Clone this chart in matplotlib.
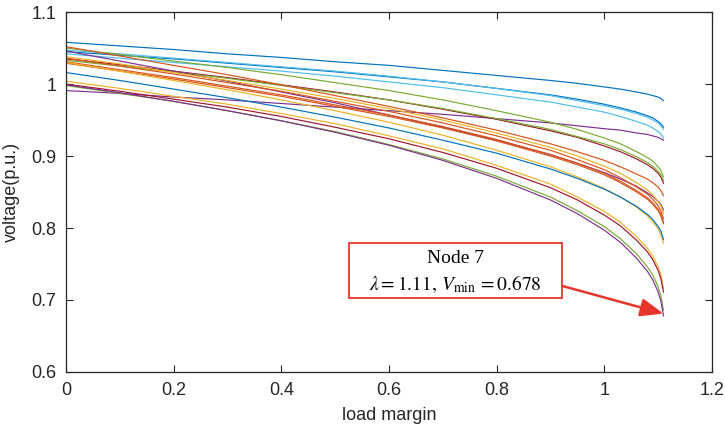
import matplotlib
matplotlib.use("Agg")
import matplotlib.pyplot as plt
from matplotlib.patches import Rectangle

# load margin sample points shared by every curve
lam = [0, 0.1, 0.2, 0.3, 0.4, 0.5, 0.6, 0.7, 0.8, 0.9, 0.95, 1.0,
       1.03, 1.06, 1.08, 1.09, 1.1, 1.105, 1.11]

# node voltages (p.u.) at the points above
v_blue_top = [1.058, 1.053, 1.048, 1.042, 1.037, 1.031, 1.026, 1.019, 1.012, 1.005,
              1.001, 0.996, 0.993, 0.989, 0.986, 0.984, 0.982, 0.980, 0.977]
v_blue_2 = [1.045, 1.040, 1.035, 1.029, 1.023, 1.017, 1.010, 1.003, 0.994, 0.985,
            0.979, 0.972, 0.967, 0.961, 0.956, 0.953, 0.948, 0.945, 0.940]
v_lblue_1 = [1.047, 1.042, 1.036, 1.030, 1.024, 1.018, 1.011, 1.003, 0.994, 0.984,
             0.977, 0.970, 0.965, 0.959, 0.954, 0.950, 0.946, 0.942, 0.937]
v_lblue_2 = [1.042, 1.036, 1.030, 1.024, 1.018, 1.011, 1.003, 0.995, 0.985, 0.975,
             0.968, 0.961, 0.955, 0.948, 0.943, 0.939, 0.934, 0.931, 0.925]
v_purple_flat = [0.991, 0.987, 0.982, 0.978, 0.973, 0.968, 0.963, 0.958, 0.952, 0.946,
                 0.942, 0.938, 0.936, 0.932, 0.930, 0.928, 0.926, 0.924, 0.922]
v_green_1 = [1.050, 1.041, 1.032, 1.023, 1.013, 1.002, 0.991, 0.978, 0.963, 0.947,
             0.937, 0.925, 0.917, 0.906, 0.898, 0.893, 0.885, 0.880, 0.871]
v_red_1 = [1.035, 1.027, 1.018, 1.009, 0.999, 0.989, 0.978, 0.965, 0.951, 0.935,
           0.926, 0.914, 0.906, 0.896, 0.888, 0.883, 0.876, 0.871, 0.862]
v_green_2 = [1.033, 1.025, 1.017, 1.008, 0.998, 0.988, 0.978, 0.966, 0.952, 0.937,
             0.927, 0.917, 0.909, 0.899, 0.891, 0.886, 0.879, 0.874, 0.866]
v_orange_1 = [1.052, 1.039, 1.026, 1.013, 0.999, 0.984, 0.969, 0.953, 0.936, 0.917,
              0.906, 0.894, 0.885, 0.875, 0.868, 0.863, 0.857, 0.852, 0.845]
v_purple_2 = [1.046, 1.032, 1.018, 1.004, 0.989, 0.974, 0.957, 0.940, 0.922, 0.902,
              0.890, 0.877, 0.868, 0.858, 0.849, 0.844, 0.837, 0.833, 0.825]
v_yellow_1 = [1.038, 1.028, 1.016, 1.005, 0.993, 0.980, 0.966, 0.950, 0.932, 0.912,
              0.900, 0.886, 0.876, 0.863, 0.853, 0.846, 0.837, 0.831, 0.820]
v_orange_2 = [1.036, 1.025, 1.014, 1.002, 0.990, 0.976, 0.962, 0.946, 0.928, 0.908,
              0.895, 0.881, 0.870, 0.857, 0.847, 0.840, 0.831, 0.824, 0.813]
v_orange_3 = [1.031, 1.020, 1.009, 0.997, 0.985, 0.971, 0.957, 0.941, 0.923, 0.902,
              0.890, 0.876, 0.865, 0.852, 0.842, 0.835, 0.826, 0.819, 0.808]
v_orange_4 = [1.029, 1.018, 1.007, 0.995, 0.983, 0.969, 0.955, 0.939, 0.921, 0.900,
              0.888, 0.874, 0.863, 0.850, 0.840, 0.833, 0.824, 0.817, 0.806]
v_yellow_2 = [1.030, 1.018, 1.005, 0.992, 0.978, 0.963, 0.947, 0.929, 0.908, 0.885,
              0.871, 0.855, 0.843, 0.829, 0.817, 0.809, 0.799, 0.791, 0.779]
v_blue_3 = [1.016, 1.005, 0.993, 0.981, 0.968, 0.954, 0.939, 0.922, 0.904, 0.882,
            0.869, 0.854, 0.843, 0.830, 0.819, 0.812, 0.802, 0.796, 0.784]
v_yellow_3 = [1.004, 0.994, 0.983, 0.972, 0.959, 0.945, 0.928, 0.910, 0.887, 0.861,
              0.843, 0.823, 0.808, 0.788, 0.772, 0.761, 0.746, 0.735, 0.716]
v_red_2 = [1.000, 0.990, 0.979, 0.968, 0.955, 0.940, 0.924, 0.905, 0.883, 0.856,
           0.839, 0.818, 0.803, 0.783, 0.767, 0.756, 0.741, 0.730, 0.711]
v_green_3 = [0.998, 0.987, 0.976, 0.963, 0.949, 0.934, 0.916, 0.896, 0.872, 0.843,
             0.824, 0.802, 0.785, 0.764, 0.746, 0.735, 0.718, 0.706, 0.686]
v_node7 = [0.999, 0.988, 0.976, 0.963, 0.949, 0.933, 0.915, 0.894, 0.869, 0.839,
           0.820, 0.797, 0.780, 0.758, 0.740, 0.728, 0.711, 0.699, 0.678]

curves = [v_blue_top, v_blue_2, v_lblue_1, v_lblue_2, v_purple_flat, v_green_1,
          v_red_1, v_green_2, v_orange_1, v_purple_2, v_yellow_1, v_orange_2,
          v_orange_3, v_orange_4, v_yellow_2, v_blue_3, v_yellow_3, v_red_2,
          v_green_3, v_node7]

# MATLAB default colour order
c_blue, c_orange, c_yellow = "#0072BD", "#D95319", "#EDB120"
c_purple, c_green, c_lblue, c_red = "#7E2F8E", "#77AC30", "#4DBEEE", "#A2142F"
colors = [c_blue, c_blue, c_lblue, c_lblue, c_purple, c_green,
          c_red, c_green, c_orange, c_purple, c_yellow, c_orange,
          c_orange, c_orange, c_yellow, c_blue, c_yellow, c_red,
          c_green, c_purple]

x_ticks = [0, 0.2, 0.4, 0.6, 0.8, 1.0, 1.2]
x_labels = ["0", "0.2", "0.4", "0.6", "0.8", "1", "1.2"]
y_ticks = [0.6, 0.7, 0.8, 0.9, 1.0, 1.1]
y_labels = ["0.6", "0.7", "0.8", "0.9", "1", "1.1"]

lam_min, v_min = 1.11, 0.678

plt.rcParams["font.family"] = ["Liberation Sans", "DejaVu Sans"]
plt.rcParams["mathtext.fontset"] = "stix"

fig = plt.figure(figsize=(7.25, 4.32), dpi=100)
ax = fig.add_axes([0.091, 0.139, 0.891, 0.833])

for vals, col in zip(curves, colors):
    ax.plot(lam, vals, color=col, lw=0.85)

ax.set_xlim(0, 1.2)
ax.set_ylim(0.6, 1.1)
ax.set_xticks(x_ticks, x_labels)
ax.set_yticks(y_ticks, y_labels)
ax.tick_params(direction="in", top=True, right=True, length=5, width=0.8,
               labelsize=13, colors="#262626", pad=7)
for s in ax.spines.values():
    s.set_linewidth(0.9)
    s.set_color("#262626")
ax.set_xlabel("load margin", fontsize=13, color="#262626", labelpad=6)
ax.set_ylabel("voltage(p.u.)", fontsize=13, color="#262626", labelpad=8)

# annotation box + arrow to the lowest voltage point
red = "#E8352B"
ax.add_patch(Rectangle((0.5257, 0.703), 0.3957, 0.076, fill=True, facecolor="white",
                       edgecolor=red, lw=1.3, zorder=5))
ax.text(0.7236, 0.757, "Node 7", ha="center", va="center", fontsize=14,
        family="Liberation Serif", zorder=6)
ax.text(0.7236, 0.7215, rf"$\lambda = {lam_min:.2f},\, V_{{\min}}\, = {v_min:.3f}$",
        ha="center", va="center", fontsize=14, zorder=6)
ax.annotate("", xy=(lam_min, 0.681), xytext=(0.922, 0.7195),
            arrowprops=dict(arrowstyle="-|>,head_length=1.4,head_width=0.55",
                            color=red, lw=1.8, shrinkA=0, shrinkB=0), zorder=6)

fig.savefig("out.png", dpi=100)
